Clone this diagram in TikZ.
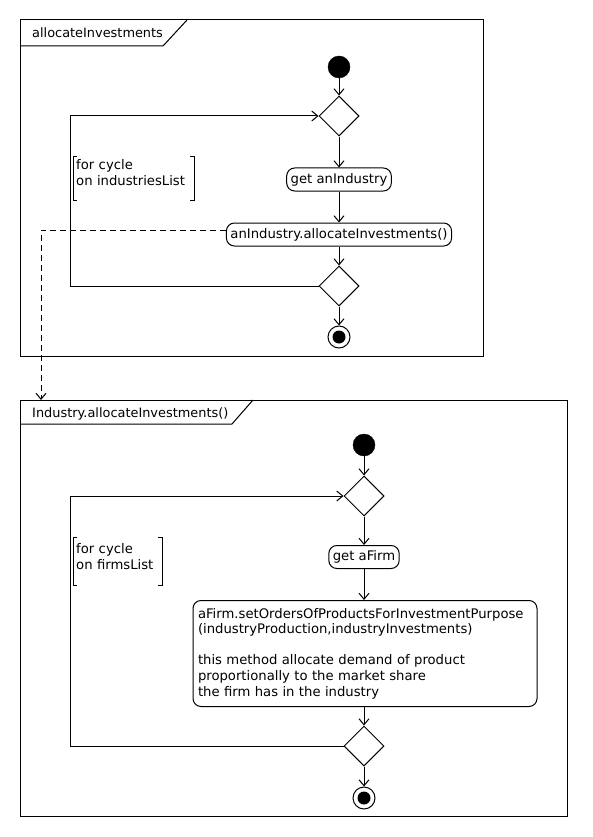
\documentclass[tikz,border=0pt]{standalone}
\usepackage{fontspec}
\setmainfont{DejaVu Sans}
\usetikzlibrary{arrows.meta,shapes.geometric}

\tikzset{
  base/.style={line width=1pt},
  flow/.style={base,-{Straight Barb[length=6pt,width=10pt]}},
  dep/.style={base,dashed,dash pattern=on 6pt off 4pt,-{Straight Barb[length=6pt,width=10pt]}},
  startnode/.style={circle,fill=black,draw=black,minimum size=22pt,inner sep=0pt},
  endnode/.style={circle,draw=black,base,fill=white,minimum size=22pt,inner sep=0pt,
    path picture={\fill[black] (path picture bounding box.center) circle (6.5pt);}},
  choice/.style={diamond,draw,base,minimum size=40pt,inner sep=0pt,fill=white},
  txt/.style={font=\fontsize{13.2}{15.8}\selectfont},
  action/.style={draw,base,txt,rounded corners=8pt,minimum height=23pt,inner xsep=4pt,inner ysep=0pt},
  note/.style={txt,align=left,inner xsep=3pt,inner ysep=0pt,anchor=north west},
  bracket/.style={line width=0.8pt},
  frametitle/.style={anchor=base west,inner sep=0pt,font=\fontsize{12.9}{15}\selectfont},
  frameline/.style={base},
}

\begin{document}
\begin{tikzpicture}[x=1pt,y=-1pt]
\useasboundingbox (0,0) rectangle (592,837);

% ---------- outer frame: allocateInvestments ----------
\draw[frameline] (20,20) rectangle (483,356);
\draw[frameline] (20,46) -- (163,46) -- (187,20);
\node[frametitle] (t1) at (32,38) {allocateInvestments};

\node[startnode] (s1) at (339,67) {};
\node[choice] (d1) at (339,116) {};
\node[action] (a1) at (339,179.5) {get anIndustry};
\node[action] (a2) at (339,234.5) {anIndustry.allocateInvestments()};
\node[choice] (d2) at (339,286) {};
\node[endnode] (e1) at (339,337) {};

\draw[flow] (s1) -- (d1);
\draw[flow] (d1) -- (a1);
\draw[flow] (a1) -- (a2);
\draw[flow] (a2) -- (d2);
\draw[flow] (d2) -- (e1);

\coordinate (l1b) at (70,286);
\coordinate (l1t) at (70,116);
\draw[flow] (d2.west) -- (l1b) -- (l1t) -- (d1.west);

\node[note,text width=115pt,minimum height=44pt,text depth=27pt] (n1) at (73,156) {for cycle\\on industriesList};
\draw[bracket] ([xshift=4pt]n1.north west) -- (n1.north west) -- (n1.south west) -- ([xshift=4pt]n1.south west);
\draw[bracket] ([xshift=-4pt]n1.north east) -- (n1.north east) -- (n1.south east) -- ([xshift=-4pt]n1.south east);

% ---------- inner frame: Industry.allocateInvestments() ----------
\draw[frameline] (20,400) rectangle (567,816);
\draw[frameline] (20,424) -- (232,424) -- (253,400);
\node[frametitle] (t2) at (32,417) {Industry.allocateInvestments()};

\coordinate (dc) at (41,230);
\coordinate (dt) at (41,400);
\draw[dep] ([yshift=4.5pt]a2.west) -- (dc) -- (dt);

\node[startnode] (s2) at (364,445) {};
\node[choice] (d3) at (364,496) {};
\node[action] (a3) at (364,557) {get aFirm};
\node[action,align=left,text width=334pt,inner xsep=5pt,minimum height=106pt,
      font=\fontsize{13.2}{15.6}\selectfont] (a4) at (365,653.5)
  {aFirm.setOrdersOfProductsForInvestmentPurpose\\(industryProduction,industryInvestments)\\[15.6pt]this method allocate demand of product\\proportionally to the market share\\the firm has in the industry};
\node[choice] (d4) at (364,746) {};
\node[endnode] (e2) at (364,798) {};

\draw[flow] (s2) -- (d3);
\draw[flow] (d3) -- (a3);
\draw[flow] (a3) -- (a3 |- a4.north);
\draw[flow] (a3 |- a4.south) -- (d4);
\draw[flow] (d4) -- (e2);

\coordinate (l2b) at (70,746);
\coordinate (l2t) at (70,496);
\draw[flow] (d4.west) -- (l2b) -- (l2t) -- (d3.west);

\node[note,text width=83pt,minimum height=48pt,text depth=25pt] (n2) at (73,537) {for cycle\\on firmsList};
\draw[bracket] ([xshift=4pt]n2.north west) -- (n2.north west) -- (n2.south west) -- ([xshift=4pt]n2.south west);
\draw[bracket] ([xshift=-4pt]n2.north east) -- (n2.north east) -- (n2.south east) -- ([xshift=-4pt]n2.south east);
\end{tikzpicture}
\end{document}
